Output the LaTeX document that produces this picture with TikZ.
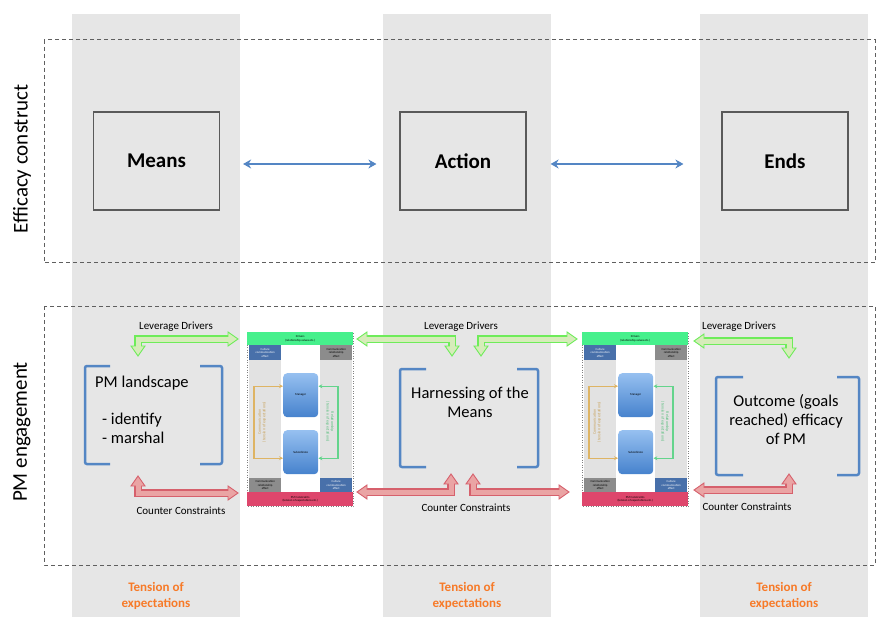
\documentclass[tikz,border=0pt]{standalone}
\usepackage{fontspec}
\setmainfont{Carlito}
\usetikzlibrary{calc,arrows.meta}
\definecolor{colgray}{RGB}{230,230,230}
\definecolor{dashgray}{RGB}{95,95,95}
\definecolor{boxline}{RGB}{90,90,90}
\definecolor{steel}{RGB}{84,134,196}
\definecolor{gfill}{RGB}{214,236,186}
\definecolor{gborder}{RGB}{110,236,90}
\definecolor{rfill}{RGB}{234,164,164}
\definecolor{rborder}{RGB}{214,96,108}
\definecolor{tens}{RGB}{247,122,40}
\definecolor{drvgreen}{RGB}{70,240,140}
\definecolor{pmred}{RGB}{222,70,108}
\definecolor{mblue}{RGB}{72,112,170}
\definecolor{mgray}{RGB}{140,140,140}
\definecolor{panel}{RGB}{226,226,226}
\definecolor{mtop}{RGB}{150,192,240}
\definecolor{mbot}{RGB}{70,130,205}
\definecolor{corange}{RGB}{222,180,100}
\definecolor{cgreen}{RGB}{100,212,140}
\tikzset{
  colbg/.style={fill=colgray,draw=none},
  dashbox/.style={draw=dashgray,line width=1pt,dash pattern=on 4pt off 3pt},
  topbox/.style={draw=boxline,line width=1.2pt,minimum width=126pt,minimum height=98pt,inner sep=0pt,font=\fontsize{21}{24}\selectfont\bfseries},
  bluearrow/.style={draw=steel,line width=2pt,{Stealth[length=8pt,width=9pt]}-{Stealth[length=8pt,width=9pt]}},
  bracket/.style={draw=steel,line width=2.5pt,rounded corners=2pt},
  bigtext/.style={font=\fontsize{16.5}{19}\selectfont,align=center,inner sep=0pt},
  smalltext/.style={font=\fontsize{11}{12}\selectfont,inner sep=0pt},
  tenstext/.style={font=\fontsize{13}{16}\selectfont\bfseries,text=tens,align=center,inner sep=0pt},
  sidelabel/.style={font=\fontsize{21}{24}\selectfont,rotate=90,inner sep=0pt},
  tiny/.style={font=\fontsize{3}{3.5}\selectfont,align=center,inner sep=0pt},
  tinyside/.style={font=\fontsize{4}{4.5}\selectfont,align=center,inner sep=0pt},
}
\newcommand\fhead[4]{%
  \begin{scope}[shift={(#1)},rotate=#2]
    \filldraw[fill=#3,draw=#4,line width=0.9pt,line join=miter] (0pt,0pt) -- (-10pt,7pt) -- (-10pt,-7pt) -- cycle;
  \end{scope}}
\newcommand\fatarrow[7]{%
  \draw[#2,line width=7.5pt,line join=miter] ($(#3)!8pt!(#5)$) -- (#5) -- ($(#6)!8pt!(#5)$);
  \fhead{#3}{#4}{#1}{#2}
  \fhead{#6}{#7}{#1}{#2}
  \draw[#1,line width=5pt,line join=miter] ($(#3)!8pt!(#5)$) -- (#5) -- ($(#6)!8pt!(#5)$);}
\newcommand\minidiag[2]{%
  \begin{scope}[shift={(#1,332)}]
    \fill[white] (0,0) rectangle (106,174);
    \draw[gray,line width=0.5pt,dotted] (0,0) rectangle (106,174);
    \fill[panel] (2,13) rectangle (34,146);
    \fill[panel] (73,13) rectangle (105,146);
    \node[fill=drvgreen,minimum width=106pt,minimum height=13pt,anchor=north west,inner sep=0pt,tiny] (#2drv) at (0,0) {Drivers\\(relationship values etc.)};
    \node[fill=mblue,text=white,minimum width=32pt,minimum height=15pt,anchor=north west,inner sep=0pt,tiny] (#2tl) at (2,13) {Culture\\communication\\effect};
    \node[fill=mgray,minimum width=32pt,minimum height=15pt,anchor=north west,inner sep=0pt,tiny] (#2tr) at (73,13) {Communication\\relationship\\effect};
    \node[top color=mtop,bottom color=mbot,rounded corners=4pt,minimum width=35pt,minimum height=44pt,anchor=north west,inner sep=0pt,tiny] (#2man) at (36,41) {Manager};
    \node[top color=mtop,bottom color=mbot,rounded corners=4pt,minimum width=35pt,minimum height=44pt,anchor=north west,inner sep=0pt,tiny] (#2sub) at (36,98) {Subordinate};
    \node[fill=mgray,minimum width=32pt,minimum height=14pt,anchor=north west,inner sep=0pt,tiny] (#2bl) at (2,146) {Communication\\relationship\\effect};
    \node[fill=mblue,text=white,minimum width=32pt,minimum height=14pt,anchor=north west,inner sep=0pt,tiny] (#2br) at (73,146) {Culture\\communication\\effect};
    \node[fill=pmred,minimum width=106pt,minimum height=14pt,anchor=north west,inner sep=0pt,tiny] (#2pm) at (0,160) {PM Constraints\\(tension of expectations etc.)};
    \draw[corange,line width=1.3pt,-{Stealth[length=4pt,width=4pt]}] (7,90) |- ([yshift=9pt]#2man.west);
    \draw[corange,line width=1.3pt,-{Stealth[length=4pt,width=4pt]}] (7,90) |- ([yshift=-6pt]#2sub.west);
    \draw[cgreen,line width=1.3pt,-{Stealth[length=4pt,width=4pt]}] (91,90) |- ([yshift=9pt]#2man.east);
    \draw[cgreen,line width=1.3pt,-{Stealth[length=4pt,width=4pt]}] (91,90) |- ([yshift=-6pt]#2sub.east);
    \node[tinyside,text=corange!90!black,rotate=90] at (15,90) {Communication\\(tension of expectations)};
    \node[tinyside,text=cgreen!90!black,rotate=-90] at (83,90) {Relationship\\(tension of expectations)};
  \end{scope}}
\begin{document}
\begin{tikzpicture}[x=1pt,y=-1pt]
\useasboundingbox (0,0) rectangle (877,617);
\fill[white] (0,0) rectangle (877,617);
% columns
\fill[colbg] (72,14) rectangle (240,617);
\fill[colbg] (383,14) rectangle (551,617);
\fill[colbg] (700,14) rectangle (868,617);
% dashed frames
\draw[dashbox] (44,40) rectangle (875,263);
\draw[dashbox] (44,306) rectangle (875,565);
\node[sidelabel] (lab1) at (22,159) {Efficacy construct};
\node[sidelabel] (lab2) at (22,432) {PM engagement};
% top boxes
\node[topbox] (means) at (156.5,161) {Means};
\node[topbox] (action) at (463,161) {Action};
\node[topbox] (ends) at (785,161) {Ends};
\draw[bluearrow] ([xshift=23pt,yshift=-3pt]means.east) -- ([xshift=-23pt,yshift=-3pt]action.west);
\draw[bluearrow] ([xshift=24pt,yshift=-3pt]action.east) -- ([xshift=-38pt,yshift=-3pt]ends.west);
% mini diagrams
\minidiag{247}{a}
\minidiag{582}{b}
% brackets
\draw[bracket] (110,366) -- (85,366) -- (85,464) -- (110,464);
\draw[bracket] (200,366) -- (222,366) -- (222,464) -- (200,464);
\draw[bracket] (426,369) -- (400,369) -- (400,467) -- (426,467);
\draw[bracket] (517,369) -- (538,369) -- (538,467) -- (517,467);
\draw[bracket] (743,377) -- (716,377) -- (716,475) -- (743,475);
\draw[bracket] (837,377) -- (859,377) -- (859,475) -- (837,475);
\node[bigtext,anchor=west] (land) at (95,383) {PM landscape};
\node[bigtext,anchor=west,align=left] (idm) at (102,428) {- identify\\- marshal};
\node[bigtext] (harn) at (470,402) {Harnessing of the\\Means};
\node[bigtext] (outc) at (786,420) {Outcome (goals\\reached) efficacy\\of PM};
% labels
\node[smalltext] (ld1) at (176,327) {Leverage Drivers};
\node[smalltext] (ld2) at (461,327) {Leverage Drivers};
\node[smalltext] (ld3) at (739,327) {Leverage Drivers};
\node[smalltext] (cc1) at (181,511) {Counter Constraints};
\node[smalltext] (cc2) at (466,508) {Counter Constraints};
\node[smalltext] (cc3) at (747,507) {Counter Constraints};
% fat arrows
\fatarrow{gfill}{gborder}{138,356}{-90}{138,339}{238,339}{0}
\fatarrow{gfill}{gborder}{357,339}{180}{452,339}{452,356}{-90}
\fatarrow{gfill}{gborder}{481,356}{-90}{481,339}{577,339}{0}
\fatarrow{gfill}{gborder}{694,341}{180}{789,341}{789,358}{-90}
\fatarrow{rfill}{rborder}{138,476}{90}{138,493}{238,493}{0}
\fatarrow{rfill}{rborder}{357,492}{180}{451,492}{451,474}{90}
\fatarrow{rfill}{rborder}{473,474}{90}{473,492}{569,492}{0}
\fatarrow{rfill}{rborder}{694,490}{180}{789,490}{789,474}{90}
% tension
\node[tenstext] (t1) at (156,596) {Tension of\\expectations};
\node[tenstext] (t2) at (467,596) {Tension of\\expectations};
\node[tenstext] (t3) at (784,596) {Tension of\\expectations};
\end{tikzpicture}
\end{document}
